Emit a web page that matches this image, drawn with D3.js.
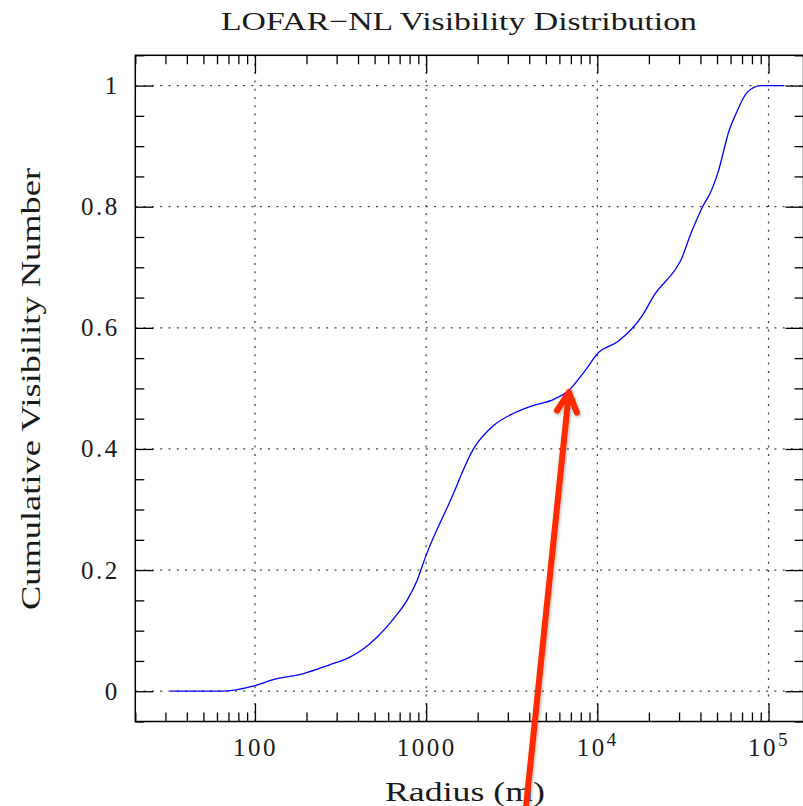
<!DOCTYPE html>
<html><head><meta charset="utf-8">
<script src="https://cdn.jsdelivr.net/npm/d3@7"></script>
<style>
body{margin:0;background:#fff}
svg{display:block}
</style>
</head><body><svg id="c" width="803" height="806"></svg>
<script>
// ---- data ----
const title = "LOFAR\u2212NL Visibility Distribution";
const xLabel = "Radius (m)";
const yLabel = "Cumulative Visibility Number";

const radius = [32, 64, 100, 128, 192, 275, 352, 431, 516, 646, 773, 885, 989, 1386, 1898, 2485, 3252, 4256, 5571, 6823, 8356, 10230, 13120, 18380, 21480, 28770, 30780, 35220, 41220, 46100, 50470, 59040, 64600, 75620, 90540, 123000];
const cumulative = [0, 0, 0.0094, 0.019, 0.029, 0.044, 0.055, 0.070, 0.089, 0.120, 0.150, 0.183, 0.221, 0.315, 0.401, 0.439, 0.459, 0.472, 0.482, 0.497, 0.527, 0.560, 0.577, 0.621, 0.654, 0.698, 0.712, 0.756, 0.800, 0.825, 0.855, 0.927, 0.954, 0.990, 1.0, 1.0];

const xDomain = [20, 160000];
const yDomain = [-0.05, 1.05];
const xMajorTicks = [100, 1000, 10000, 100000];
const xTickLabels = ["100", "1000", "10^4", "10^5"];
const xMinorTicks = [20, 30, 40, 50, 60, 70, 80, 90, 200, 300, 400, 500, 600, 700, 800, 900, 2000, 3000, 4000, 5000, 6000, 7000, 8000, 9000, 20000, 30000, 40000, 50000, 60000, 70000, 80000, 90000];
const yMajorTicks = [0, 0.2, 0.4, 0.6, 0.8, 1];
const yTickLabels = ["0", "0.2", "0.4", "0.6", "0.8", "1"];
const yMinorTicks = [-0.05, 0.05, 0.1, 0.15, 0.25, 0.3, 0.35, 0.45, 0.5, 0.55, 0.65, 0.7, 0.75, 0.85, 0.9, 0.95, 1.05];

// annotation arrow (data coordinates)
const arrowTail = [3810, -0.197];
const arrowTip = [6823, 0.494];

// ---- layout ----
const L = 135.3, R = 803.5, T = 55.3, B = 721.5;
const FONT = "'Liberation Serif', 'Times New Roman', serif";
const TXT = "#1a1a1a";
const svg = d3.select("#c");
svg.append("rect").attr("width", 803).attr("height", 806).attr("fill", "#fff");

const x = d3.scaleLog().domain(xDomain).range([L, R]);
const y = d3.scaleLinear().domain(yDomain).range([B, T]);

// grid
const grid = svg.append("g").attr("stroke", "#444").attr("stroke-width", 1.3).attr("stroke-dasharray", "2,6.3");
grid.selectAll("line.gx").data(xMajorTicks).join("line").attr("class", "gx")
  .attr("x1", d => x(d)).attr("x2", d => x(d)).attr("y1", B).attr("y2", T);
grid.selectAll("line.gy").data(yMajorTicks).join("line").attr("class", "gy")
  .attr("y1", d => y(d)).attr("y2", d => y(d)).attr("x1", L).attr("x2", R);

function styleAxis(g) {
  g.select(".domain").remove();
  g.attr("font-family", FONT).attr("font-size", 25);
  g.selectAll("line").attr("stroke", "#000").attr("stroke-width", 1.3);
  g.selectAll("text").attr("fill", TXT);
}

// minor ticks
svg.append("g").attr("transform", `translate(0,${B})`)
  .call(d3.axisBottom(x).tickValues(xMinorTicks).tickSize(-9).tickFormat("")).call(styleAxis);
svg.append("g").attr("transform", `translate(0,${T})`)
  .call(d3.axisTop(x).tickValues(xMinorTicks).tickSize(-9).tickFormat("")).call(styleAxis);
svg.append("g").attr("transform", `translate(${L},0)`)
  .call(d3.axisLeft(y).tickValues(yMinorTicks).tickSize(-9).tickFormat("")).call(styleAxis);
svg.append("g").attr("transform", `translate(${R},0)`)
  .call(d3.axisRight(y).tickValues(yMinorTicks).tickSize(-9).tickFormat("")).call(styleAxis);

// major ticks
const bx = svg.append("g").attr("transform", `translate(0,${B})`)
  .call(d3.axisBottom(x).tickValues(xMajorTicks).tickSize(-18).tickPadding(19)
    .tickFormat((d, i) => xTickLabels[i])).call(styleAxis);
bx.selectAll("text").each(function (d, i) {
  const t = d3.select(this);
  const parts = xTickLabels[i].split("^");
  t.text(null).attr("dy", null).attr("y", 34.5).attr("letter-spacing", 2.5);
  t.append("tspan").text(parts[0]);
  if (parts[1]) t.append("tspan").attr("font-size", 19).attr("dy", -10).text(parts[1]);
});
svg.append("g").attr("transform", `translate(0,${T})`)
  .call(d3.axisTop(x).tickValues(xMajorTicks).tickSize(-18).tickFormat("")).call(styleAxis);
const ly = svg.append("g").attr("transform", `translate(${L},0)`)
  .call(d3.axisLeft(y).tickValues(yMajorTicks).tickSize(-18).tickPadding(18)
    .tickFormat((d, i) => yTickLabels[i])).call(styleAxis);
ly.selectAll("text").attr("letter-spacing", 2.5).attr("dx", 2.5);
svg.append("g").attr("transform", `translate(${R},0)`)
  .call(d3.axisRight(y).tickValues(yMajorTicks).tickSize(-18).tickFormat("")).call(styleAxis);

// frame
svg.append("rect").attr("x", L).attr("y", T).attr("width", R - L).attr("height", B - T)
  .attr("fill", "none").attr("stroke", "#000").attr("stroke-width", 1.5);

// curve
const line = d3.line().x((d, i) => x(radius[i])).y((d, i) => y(cumulative[i])).curve(d3.curveMonotoneX);
svg.append("path").datum(radius).attr("d", line)
  .attr("fill", "none").attr("stroke", "#0000ff").attr("stroke-width", 1.3);

// titles
svg.append("text").attr("x", 459).attr("y", 30).attr("text-anchor", "middle").attr("fill", TXT)
  .attr("font-family", FONT).attr("font-size", 26).attr("textLength", 476).attr("lengthAdjust", "spacingAndGlyphs")
  .text(title);
svg.append("text").attr("x", 465).attr("y", 801).attr("text-anchor", "middle").attr("fill", TXT)
  .attr("font-family", FONT).attr("font-size", 27).attr("textLength", 160).attr("lengthAdjust", "spacingAndGlyphs")
  .text(xLabel);
svg.append("text").attr("transform", "translate(40,389) rotate(-90)").attr("text-anchor", "middle").attr("fill", TXT)
  .attr("font-family", FONT).attr("font-size", 27).attr("textLength", 442).attr("lengthAdjust", "spacingAndGlyphs")
  .text(yLabel);

// arrow annotation
const defs = svg.append("defs");
const f = defs.append("filter").attr("id", "sh").attr("x", "-50%").attr("y", "-50%").attr("width", "200%").attr("height", "200%");
f.append("feDropShadow").attr("dx", 1).attr("dy", 1.5).attr("stdDeviation", 1.5).attr("flood-color", "#000").attr("flood-opacity", 0.3);
const tx = x(arrowTip[0]), ty = y(arrowTip[1]);
const sx = x(arrowTail[0]), sy = y(arrowTail[1]);
const ang = Math.atan2(sy - ty, sx - tx);
const hl = 22, ha = 27 * Math.PI / 180;
const arrowPath = d3.path();
arrowPath.moveTo(sx, sy); arrowPath.lineTo(tx, ty);
arrowPath.moveTo(tx + hl * Math.cos(ang + ha), ty + hl * Math.sin(ang + ha));
arrowPath.lineTo(tx, ty);
arrowPath.lineTo(tx + hl * Math.cos(ang - ha), ty + hl * Math.sin(ang - ha));
svg.append("path").attr("d", arrowPath.toString()).attr("fill", "none")
  .attr("stroke", "#ff2a00").attr("stroke-width", 6).attr("stroke-linecap", "round").attr("stroke-linejoin", "round")
  .attr("filter", "url(#sh)");
</script>
</body></html>
